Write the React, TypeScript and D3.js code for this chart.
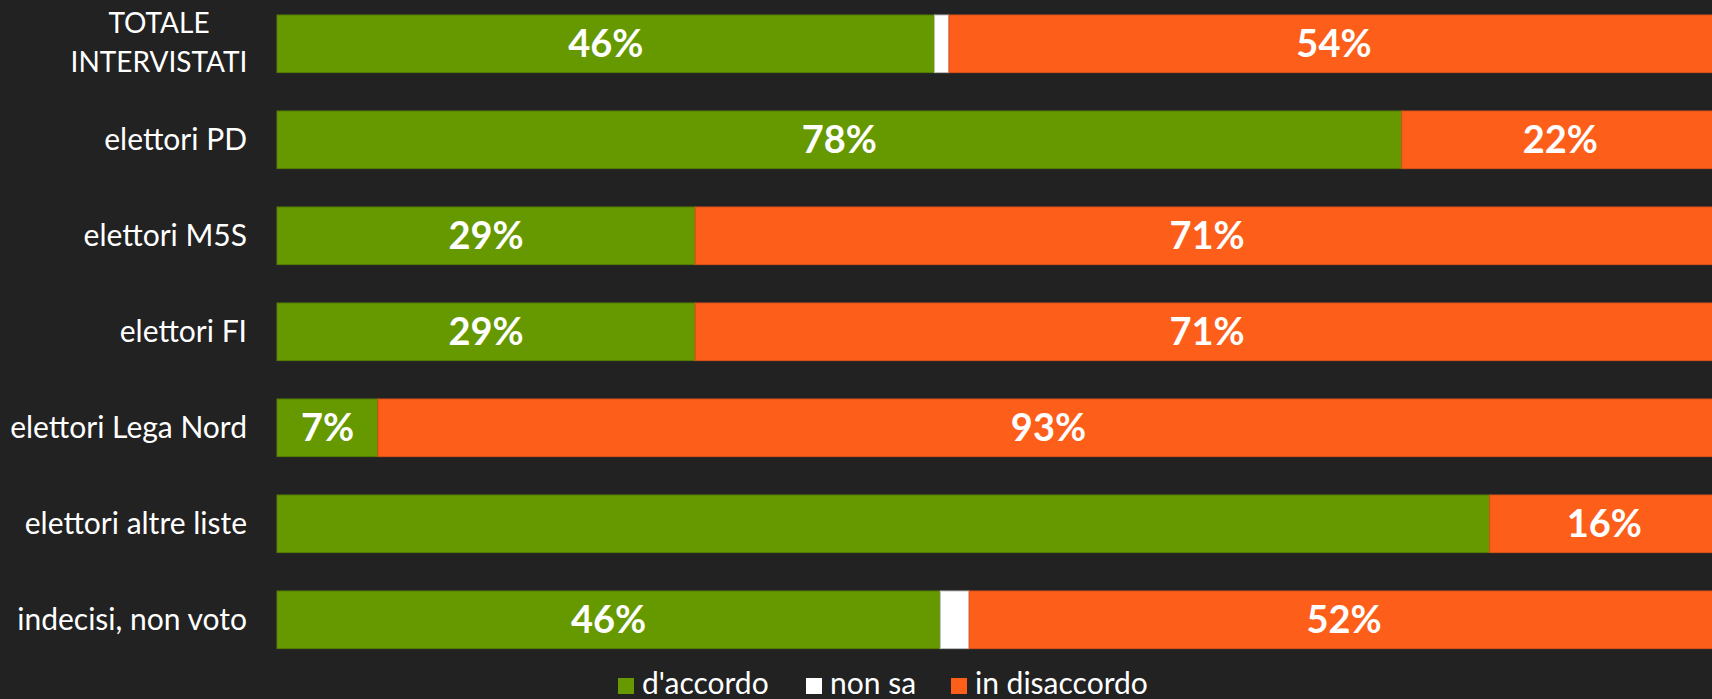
import * as d3 from "d3";

const categories = [
  "TOTALE INTERVISTATI",
  "elettori PD",
  "elettori M5S",
  "elettori FI",
  "elettori Lega Nord",
  "elettori altre liste",
  "indecisi, non voto",
];

const agree = [45.6, 78, 29, 29, 7, 84.1, 46];
const dontKnow = [1, 0, 0, 0, 0, 0, 2];
const disagree = [53.4, 22, 71, 71, 93, 15.9, 52];

const agreeLabels = ["46%", "78%", "29%", "29%", "7%", "", "46%"];
const disagreeLabels = ["54%", "22%", "71%", "71%", "93%", "16%", "52%"];

const seriesNames = ["d'accordo", "non sa", "in disaccordo"];
const seriesColors = ["#669900", "#ffffff", "#fd5f1b"];
const seriesStrokes = ["#557f00", "#bfbfbf", "#d9521a"];

const W = 1712;
const H = 699;
const FONT = "Lato, 'Open Sans', sans-serif";

export default function App() {
  const x = d3.scaleLinear().domain([0, 100]).range([277, 1719]);
  const y = d3
    .scaleBand<string>()
    .domain(categories)
    .range([-4.2, 667.8])
    .paddingInner(0.4)
    .paddingOuter(0.2);

  const rows = categories.map((cat, i) => {
    const stack = d3.stack<number[]>().keys(["0", "1", "2"] as any)([[agree[i], dontKnow[i], disagree[i]]] as any);
    return { cat, i, segs: stack.map((s: any) => [s[0][0], s[0][1]]) };
  });

  const legendX = [618, 806, 951];

  return (
    <svg
      width={W}
      height={H}
      style={{ position: "absolute", left: 0, top: 0, background: "#222222" }}
    >
      <rect x={0} y={0} width={W} height={H} fill="#222222" />
      {rows.map(({ cat, i, segs }) => {
        const y0 = y(cat) as number;
        const bh = y.bandwidth();
        const labels = [agreeLabels[i], "", disagreeLabels[i]];
        return (
          <g key={cat}>
            {segs.map(([a, b], k) =>
              b - a > 0 ? (
                <rect
                  key={k}
                  x={x(a)}
                  y={y0}
                  width={x(b) - x(a)}
                  height={bh}
                  fill={seriesColors[k]}
                  stroke={seriesStrokes[k]}
                  strokeWidth={1}
                />
              ) : null
            )}
            {segs.map(([a, b], k) =>
              labels[k] ? (
                <text
                  key={"t" + k}
                  x={(x(a) + x(b)) / 2}
                  y={y0 + bh / 2}
                  dy="0.36em"
                  textAnchor="middle"
                  fill="#ffffff"
                  fontFamily={FONT}
                  fontWeight={700}
                  fontSize={38}
                >
                  {labels[k]}
                </text>
              ) : null
            )}
            {i === 0 ? (
              <text
                x={159}
                y={y0 + bh / 2}
                textAnchor="middle"
                fill="#ffffff"
                fontFamily={FONT}
                fontSize={28}
              >
                <tspan x={159} dy="-0.4em">TOTALE</tspan>
                <tspan x={159} dy="1.4em">INTERVISTATI</tspan>
              </text>
            ) : (
              <text
                x={247}
                y={y0 + bh / 2}
                dy="0.35em"
                textAnchor="end"
                fill="#ffffff"
                fontFamily={FONT}
                fontSize={30}
              >
                {cat}
              </text>
            )}
          </g>
        );
      })}
      {seriesNames.map((name, k) => (
        <g key={name}>
          <rect x={legendX[k]} y={678} width={16} height={16} fill={seriesColors[k]} />
          <text
            x={legendX[k] + 24}
            y={694}
            fill="#ffffff"
            fontFamily={FONT}
            fontSize={30}
          >
            {name}
          </text>
        </g>
      ))}
    </svg>
  );
}
